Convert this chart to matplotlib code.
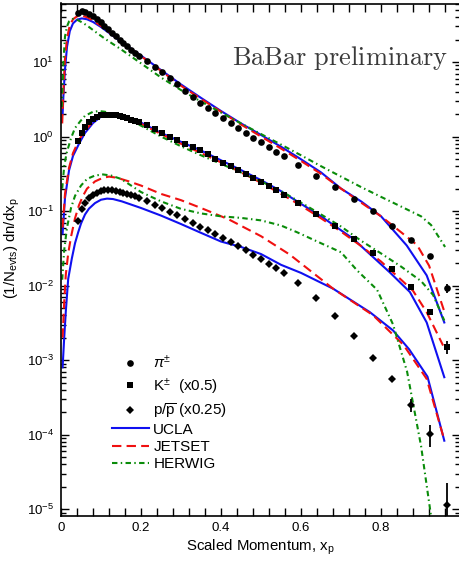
import numpy as np
import matplotlib
matplotlib.use('Agg')
import matplotlib.pyplot as plt
from matplotlib.lines import Line2D
from matplotlib.ticker import MultipleLocator, LogLocator, NullFormatter, FuncFormatter

plt.rcParams['font.family'] = ['Liberation Sans', 'DejaVu Sans']
plt.rcParams['mathtext.fontset'] = 'custom'
plt.rcParams['mathtext.rm'] = 'Liberation Sans'
plt.rcParams['mathtext.it'] = 'Liberation Sans:italic'
plt.rcParams['mathtext.sf'] = 'Liberation Sans'
plt.rcParams['axes.unicode_minus'] = False

# bin centres (x_p) shared by the three particle species
x_bins = [0.042, 0.0515, 0.061, 0.0705, 0.080, 0.0895, 0.099, 0.1085, 0.118, 0.1275,
          0.137, 0.1465, 0.156, 0.1655, 0.175, 0.1845,
          0.196, 0.215, 0.234, 0.253, 0.272, 0.291, 0.310, 0.329, 0.348, 0.367,
          0.386, 0.405, 0.424, 0.443, 0.462, 0.481, 0.500, 0.519, 0.538, 0.557,
          0.592, 0.638, 0.685, 0.733, 0.781, 0.828, 0.875, 0.922, 0.966]

# data points
pi_y = [46, 48, 47, 44.5, 41, 37.5, 34, 30.5, 27.5, 24.8, 22.3, 20.0, 18.0, 16.2, 14.6, 13.2,
        11.9, 10.2, 8.6, 7.25, 6.1, 5.0, 4.05, 3.38, 2.86, 2.44, 2.08, 1.77, 1.51, 1.29,
        1.12, 0.97, 0.84, 0.73, 0.63, 0.545,
        0.42, 0.296, 0.211, 0.147, 0.099, 0.064, 0.0404, 0.0249, 0.0092]
k_y = [0.88, 1.12, 1.35, 1.55, 1.72, 1.84, 1.92, 1.96, 1.97, 1.96, 1.93, 1.88, 1.82, 1.76, 1.69, 1.62,
       1.55, 1.42, 1.27, 1.13, 1.0, 0.9, 0.80, 0.73, 0.655, 0.575, 0.507, 0.448, 0.40, 0.353,
       0.312, 0.279, 0.246, 0.215, 0.19, 0.166,
       0.13, 0.0904, 0.063, 0.0422, 0.0273, 0.0168, 0.0095, 0.0044, 0.00149]
p_y = [0.073, 0.105, 0.13, 0.15, 0.165, 0.176, 0.184, 0.19, 0.192, 0.19, 0.187, 0.182, 0.177, 0.171, 0.165, 0.158,
       0.150, 0.137, 0.122, 0.110, 0.098, 0.088, 0.078, 0.070, 0.062, 0.055, 0.049, 0.044, 0.039, 0.034,
       0.030, 0.026, 0.023, 0.0195, 0.0174, 0.0146,
       0.0108, 0.0068, 0.0039, 0.00213, 0.00108, 0.00056, 0.00025, 0.000102, 1.13e-5]

# errors on the last points only
pi_err_tail = [0.0012]
k_err_tail = [0.0003]
p_err_tail = [5e-5, 3.4e-5, 1.1e-5]

# UCLA
ucla_pi_x = [0.004, 0.006, 0.010, 0.015, 0.022, 0.030, 0.040, 0.052, 0.065, 0.080, 0.100, 0.125, 0.150,
             0.200, 0.250, 0.300, 0.350, 0.400, 0.450, 0.500, 0.550, 0.600, 0.650, 0.700, 0.750, 0.800,
             0.864, 0.914, 0.958]
ucla_pi_y = [2.0, 3.5, 8, 16, 26, 33, 37, 38.5, 37.5, 34.5, 29.5, 23.5, 18.8,
             12.2, 7.8, 5.0, 3.3, 2.2, 1.5, 1.05, 0.73, 0.495, 0.33, 0.2, 0.135, 0.085,
             0.0346, 0.0137, 0.0032]
ucla_k_x = [0.004, 0.010, 0.020, 0.030, 0.045, 0.060, 0.080, 0.100, 0.120, 0.140, 0.160, 0.200, 0.250,
            0.300, 0.350, 0.400, 0.450, 0.500, 0.550, 0.600, 0.650, 0.730, 0.822, 0.872, 0.914, 0.958]
ucla_k_y = [0.05, 0.15, 0.35, 0.55, 0.8, 1.12, 1.52, 1.85, 1.97, 1.95, 1.84, 1.54, 1.12,
            0.85, 0.65, 0.48, 0.355, 0.26, 0.185, 0.125, 0.085, 0.0426, 0.015, 0.0082, 0.0032, 0.00059]
ucla_p_x = [0.004, 0.008, 0.012, 0.018, 0.027, 0.035, 0.043, 0.050, 0.060, 0.070, 0.085, 0.100, 0.115,
            0.130, 0.152, 0.200, 0.250, 0.300, 0.350, 0.400, 0.450, 0.500, 0.550, 0.600, 0.680, 0.772,
            0.830, 0.870, 0.916, 0.958]
ucla_p_y = [0.0008, 0.002, 0.0045, 0.0123, 0.023, 0.037, 0.052, 0.068, 0.09, 0.108, 0.128, 0.142, 0.147,
            0.145, 0.135, 0.11, 0.087, 0.067, 0.051, 0.039, 0.033, 0.0265, 0.019, 0.0148, 0.0091, 0.0044,
            0.0025, 0.0014, 0.0006, 8.3e-5]

# JETSET
jet_pi_x = [0.003, 0.006, 0.010, 0.015, 0.022, 0.030, 0.040, 0.050, 0.065, 0.080, 0.100, 0.125, 0.150,
            0.200, 0.250, 0.300, 0.350, 0.400, 0.450, 0.500, 0.550, 0.600, 0.650, 0.700, 0.750, 0.800,
            0.850, 0.890, 0.920, 0.958]
jet_pi_y = [1.5, 4.0, 11, 21, 31, 37.5, 41, 42, 40, 36, 30.5, 24, 19,
            12, 7.6, 4.8, 3.2, 2.15, 1.45, 1.0, 0.69, 0.47, 0.315, 0.2, 0.13, 0.085,
            0.052, 0.035, 0.0185, 0.0045]
jet_k_x = [0.004, 0.010, 0.020, 0.030, 0.045, 0.060, 0.080, 0.100, 0.120, 0.140, 0.160, 0.200, 0.250,
           0.300, 0.350, 0.400, 0.450, 0.500, 0.550, 0.600, 0.650, 0.700, 0.750, 0.800, 0.850, 0.880,
           0.914, 0.955]
jet_k_y = [0.06, 0.17, 0.38, 0.6, 0.9, 1.2, 1.6, 1.9, 1.98, 1.93, 1.8, 1.48, 1.08,
           0.8, 0.6, 0.45, 0.33, 0.24, 0.17, 0.118, 0.08, 0.053, 0.034, 0.021, 0.012, 0.0085,
           0.0044, 0.00157]
jet_p_x = [0.004, 0.008, 0.012, 0.018, 0.025, 0.035, 0.045, 0.055, 0.065, 0.085, 0.105, 0.120, 0.140,
           0.170, 0.200, 0.250, 0.300, 0.350, 0.420, 0.500, 0.572, 0.680, 0.780, 0.856, 0.914, 0.958]
jet_p_y = [0.002, 0.006, 0.014, 0.027, 0.045, 0.08, 0.12, 0.16, 0.2, 0.25, 0.28, 0.29, 0.28,
           0.25, 0.22, 0.17, 0.14, 0.11, 0.077, 0.046, 0.026, 0.0091, 0.004, 0.0016, 0.00056, 8.5e-5]

# HERWIG
her_pi_x = [0.002, 0.006, 0.010, 0.015, 0.020, 0.030, 0.040, 0.055, 0.070, 0.090, 0.110, 0.150, 0.200,
            0.250, 0.300, 0.350, 0.400, 0.450, 0.500, 0.550, 0.600, 0.650, 0.700, 0.750, 0.800, 0.850,
            0.900, 0.925, 0.960]
her_pi_y = [2.5, 10, 22, 30, 35, 38, 37, 33.5, 29.5, 24.5, 20.5, 14.8, 9.6,
            6.2, 4.2, 2.95, 2.1, 1.5, 1.08, 0.78, 0.56, 0.4, 0.29, 0.21, 0.155, 0.115,
            0.085, 0.065, 0.033]
her_k_x = [0.003, 0.008, 0.014, 0.025, 0.035, 0.048, 0.060, 0.080, 0.095, 0.110, 0.130, 0.160, 0.200,
           0.250, 0.300, 0.350, 0.400, 0.450, 0.500, 0.550, 0.600, 0.650, 0.700, 0.750, 0.800, 0.850,
           0.900, 0.930, 0.958]
her_k_y = [0.2, 0.4, 0.6, 0.95, 1.3, 1.6, 1.9, 2.15, 2.2, 2.15, 2.0, 1.75, 1.4,
           1.0, 0.74, 0.56, 0.43, 0.33, 0.25, 0.185, 0.13, 0.09, 0.062, 0.04, 0.027, 0.018,
           0.0115, 0.0075, 0.0034]
her_p_x = [0.003, 0.008, 0.015, 0.025, 0.035, 0.050, 0.065, 0.085, 0.105, 0.125, 0.150, 0.200, 0.250,
           0.300, 0.350, 0.400, 0.450, 0.500, 0.550, 0.590, 0.650, 0.700, 0.740, 0.790, 0.830, 0.865,
           0.900, 0.925]
her_p_y = [0.012, 0.03, 0.06, 0.11, 0.16, 0.22, 0.27, 0.3, 0.31, 0.3, 0.27, 0.18, 0.135,
           0.107, 0.093, 0.085, 0.081, 0.075, 0.064, 0.052, 0.037, 0.028, 0.016, 0.0088, 0.003, 0.0007,
           7e-5, 8e-6]

blue = '#1010f0'
red = '#f01010'
green = '#0a8c0a'
lw = 1.5
red_dash = (4.5, 2.5)
green_dash = (2.6, 1.6, 0.7, 1.6)

fig = plt.figure(figsize=(4.6, 5.61), dpi=100)
ax = fig.add_axes([61 / 460, 1 - 516 / 561, 398.5 / 460, 512.5 / 561])

for xs, ys in [(ucla_pi_x, ucla_pi_y), (ucla_k_x, ucla_k_y), (ucla_p_x, ucla_p_y)]:
    ax.plot(xs, ys, color=blue, lw=lw, zorder=2)
for xs, ys in [(jet_pi_x, jet_pi_y), (jet_k_x, jet_k_y), (jet_p_x, jet_p_y)]:
    ax.plot(xs, ys, color=red, lw=lw, dashes=red_dash, zorder=2)
for xs, ys in [(her_pi_x, her_pi_y), (her_k_x, her_k_y), (her_p_x, her_p_y)]:
    ax.plot(xs, ys, color=green, lw=lw, dashes=green_dash, zorder=2)

ax.plot(x_bins, pi_y, 'o', color='black', ms=4.8, mew=0, zorder=4)
ax.plot(x_bins, k_y, 's', color='black', ms=4.4, mew=0, zorder=4)
ax.plot(x_bins, p_y, 'D', color='black', ms=3.8, mew=0, zorder=4)
ax.errorbar(x_bins[-1:], pi_y[-1:], yerr=pi_err_tail, fmt='none', ecolor='black', elinewidth=1.3, zorder=4)
ax.errorbar(x_bins[-1:], k_y[-1:], yerr=k_err_tail, fmt='none', ecolor='black', elinewidth=1.3, zorder=4)
ax.errorbar(x_bins[-3:], p_y[-3:], yerr=p_err_tail, fmt='none', ecolor='black', elinewidth=1.3, zorder=4)

ax.set_yscale('log')
ax.set_xlim(0, 0.996)
ax.set_ylim(8.1e-6, 61)

ax.xaxis.set_major_locator(MultipleLocator(0.2))
ax.xaxis.set_minor_locator(MultipleLocator(0.04))
ax.xaxis.set_major_formatter(FuncFormatter(lambda v, p: '0' if abs(v) < 1e-9 else '%.1f' % v))
ax.yaxis.set_major_locator(LogLocator(base=10, numticks=20))
ax.yaxis.set_minor_locator(LogLocator(base=10, subs=np.arange(2, 10), numticks=20))
ax.yaxis.set_minor_formatter(NullFormatter())

ax.tick_params(axis='x', which='both', direction='in', top=True, length=5.5, width=1.0,
               labelsize=9.5, pad=4)
ax.tick_params(axis='y', which='major', direction='in', right=True, length=6, width=1.0,
               labelsize=9.5, pad=5)
ax.tick_params(axis='y', which='minor', direction='in', right=True, length=3.6, width=1.0)
ax.tick_params(which='minor', labelbottom=False, labelleft=False)
for s in ax.spines.values():
    s.set_linewidth(1.2)

ax.set_xlabel(r'Scaled Momentum, x$_{\rm p}$', fontsize=10.8, labelpad=3)
ax.set_ylabel(r'(1/N$_{\rm evts}$) dn/dx$_{\rm p}$', fontsize=10.8)
ax.yaxis.set_label_coords(-0.098, 0.523)

ax.text(0.972, 0.894, r'$\mathrm{BaBar\ preliminary}$', transform=ax.transAxes,
        ha='right', va='center', fontsize=19, color='#3a3a3a', math_fontfamily='cm')

h_data = [Line2D([], [], ls='none', marker='o', color='black', ms=4.8, mew=0),
          Line2D([], [], ls='none', marker='s', color='black', ms=4.4, mew=0),
          Line2D([], [], ls='none', marker='D', color='black', ms=3.8, mew=0)]
lab_data = [r'$\pi^{\pm}$', r'K$^{\pm}$  (x0.5)', r'p/$\overline{\rm p}$ (x0.25)']
leg1 = ax.legend(h_data, lab_data, loc='upper left', bbox_to_anchor=(0.128, 0.316),
                 frameon=False, fontsize=11, handlelength=2.4, handletextpad=0.3,
                 labelspacing=0.32, borderpad=0, borderaxespad=0)
ax.add_artist(leg1)

h_mc = [Line2D([], [], color=blue, lw=lw),
        Line2D([], [], color=red, lw=lw, dashes=red_dash),
        Line2D([], [], color=green, lw=lw, dashes=green_dash)]
ax.legend(h_mc, ['UCLA', 'JETSET', 'HERWIG'], loc='upper left', bbox_to_anchor=(0.128, 0.182),
          frameon=False, fontsize=11, handlelength=2.4, handletextpad=0.3,
          labelspacing=0.22, borderpad=0, borderaxespad=0)

fig.savefig('out.png', dpi=100)
